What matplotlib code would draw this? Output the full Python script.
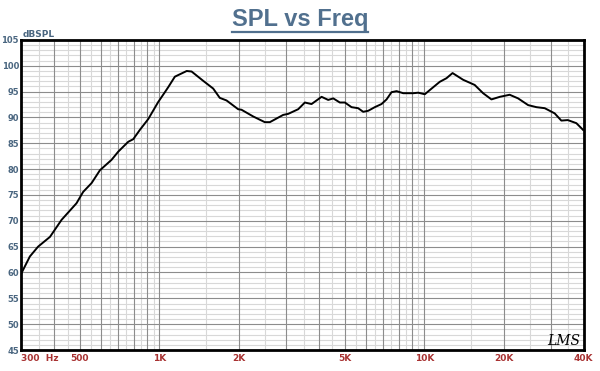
import numpy as np
import matplotlib
matplotlib.use('Agg')
import matplotlib.pyplot as plt
from matplotlib.lines import Line2D

# frequency response
freq = [300, 324, 348, 386, 427, 486, 515, 554, 596, 659, 699, 762, 796, 843, 907,
        989, 1048, 1080, 1143, 1267, 1322, 1462, 1595, 1689, 1791, 1982, 2040, 2258,
        2498, 2611, 2766, 2931, 3061, 3339, 3539, 3750, 4093, 4335, 4529, 4797,
        5012, 5310, 5624, 5876, 6140, 6500, 6890, 7200, 7518, 7856, 8322, 9080,
        9480, 10040, 10480, 11430, 12120, 12780, 14010, 15490, 16670, 17920,
        19270, 21000, 22590, 24650, 26500, 28480, 31050, 32900, 34800, 37500, 39750]
spl = [59.7, 63.1, 65.0, 66.9, 70.2, 73.4, 75.6, 77.3, 79.8, 81.8, 83.4, 85.3, 85.8,
       87.6, 89.7, 93.0, 94.9, 95.9, 97.9, 99.0, 98.9, 97.1, 95.6, 93.8, 93.3, 91.6,
       91.5, 90.2, 89.1, 89.1, 89.8, 90.5, 90.7, 91.6, 92.9, 92.6, 94.0, 93.4, 93.7,
       92.9, 92.9, 92.0, 91.8, 91.1, 91.3, 92.0, 92.6, 93.5, 94.9, 95.1, 94.7, 94.7,
       94.8, 94.5, 95.3, 96.9, 97.6, 98.6, 97.3, 96.3, 94.7, 93.5, 94.0, 94.4, 93.7,
       92.4, 92.0, 91.8, 90.8, 89.4, 89.5, 88.9, 87.6]

xtick_pos = [300, 500, 1000, 2000, 5000, 10000, 20000, 40000]
xtick_lab = ['300  Hz', '500', '1K', '2K', '5K', '10K', '20K', '40K']
ytick_pos = list(range(45, 106, 5))

fig = plt.figure(figsize=(6, 3.71), dpi=100)
ax = fig.add_axes([0.035, 0.0566, 0.938, 0.8356])

# vertical grid: dark at decade multiples, light halfway
dark_v, light_v = [], []
for dec in [100, 1000, 10000]:
    for m in range(1, 10):
        f = m * dec
        if 300 <= f <= 40000:
            dark_v.append(f)
        h = (m + 0.5) * dec
        if 300 <= h <= 40000:
            light_v.append(h)
for f in light_v:
    ax.axvline(f, color='#d8d8d8', lw=0.8, zorder=1)
for f in dark_v:
    ax.axvline(f, color='#8c8c8c', lw=0.8, zorder=2)
for v in range(45, 106):
    if v % 5 == 0:
        ax.axhline(v, color='#8c8c8c', lw=0.8, zorder=2)
    else:
        ax.axhline(v, color='#d8d8d8', lw=0.8, zorder=1)

ax.plot(freq, spl, color='black', lw=1.4, zorder=5)

ax.set_xscale('log')
ax.set_xlim(300, 40000)
ax.set_ylim(45, 105)
ax.set_xticks(xtick_pos)
ax.set_xticklabels(xtick_lab)
ax.xaxis.set_minor_locator(matplotlib.ticker.NullLocator())
ax.set_yticks(ytick_pos)
ax.set_yticklabels([str(v) for v in ytick_pos])
ax.tick_params(axis='x', length=0, pad=3)
ax.tick_params(axis='y', length=0, pad=1.5)
for t in ax.get_xticklabels():
    t.set_color('#a83232')
    t.set_fontsize(6.5)
    t.set_fontweight('bold')
ax.get_xticklabels()[0].set_horizontalalignment('left')
ax.get_xticklabels()[0].set_x(290)
for t in ax.get_yticklabels():
    t.set_color('#4a6680')
    t.set_fontsize(6)
    t.set_fontweight('bold')
for s in ax.spines.values():
    s.set_linewidth(2)
    s.set_color('black')

fig.text(0.037, 0.9, 'dBSPL', color='#4a6680', fontsize=6.5, fontweight='bold')
ttl = fig.text(0.5, 0.948, 'SPL vs Freq', ha='center', va='center', color='#51708e',
               fontsize=17, fontweight='bold', family='Liberation Sans')
fig.text(0.94, 0.082, 'LMS', ha='center', va='center', fontsize=10, style='italic',
         family='DejaVu Serif', color='black')

# underline the title
fig.canvas.draw()
bb = ttl.get_window_extent().transformed(fig.transFigure.inverted())
fig.add_artist(Line2D([bb.x0, bb.x1], [bb.y0 - 0.002, bb.y0 - 0.002],
                      color='#51708e', lw=1.6, transform=fig.transFigure))

fig.savefig('out.png', dpi=100)
